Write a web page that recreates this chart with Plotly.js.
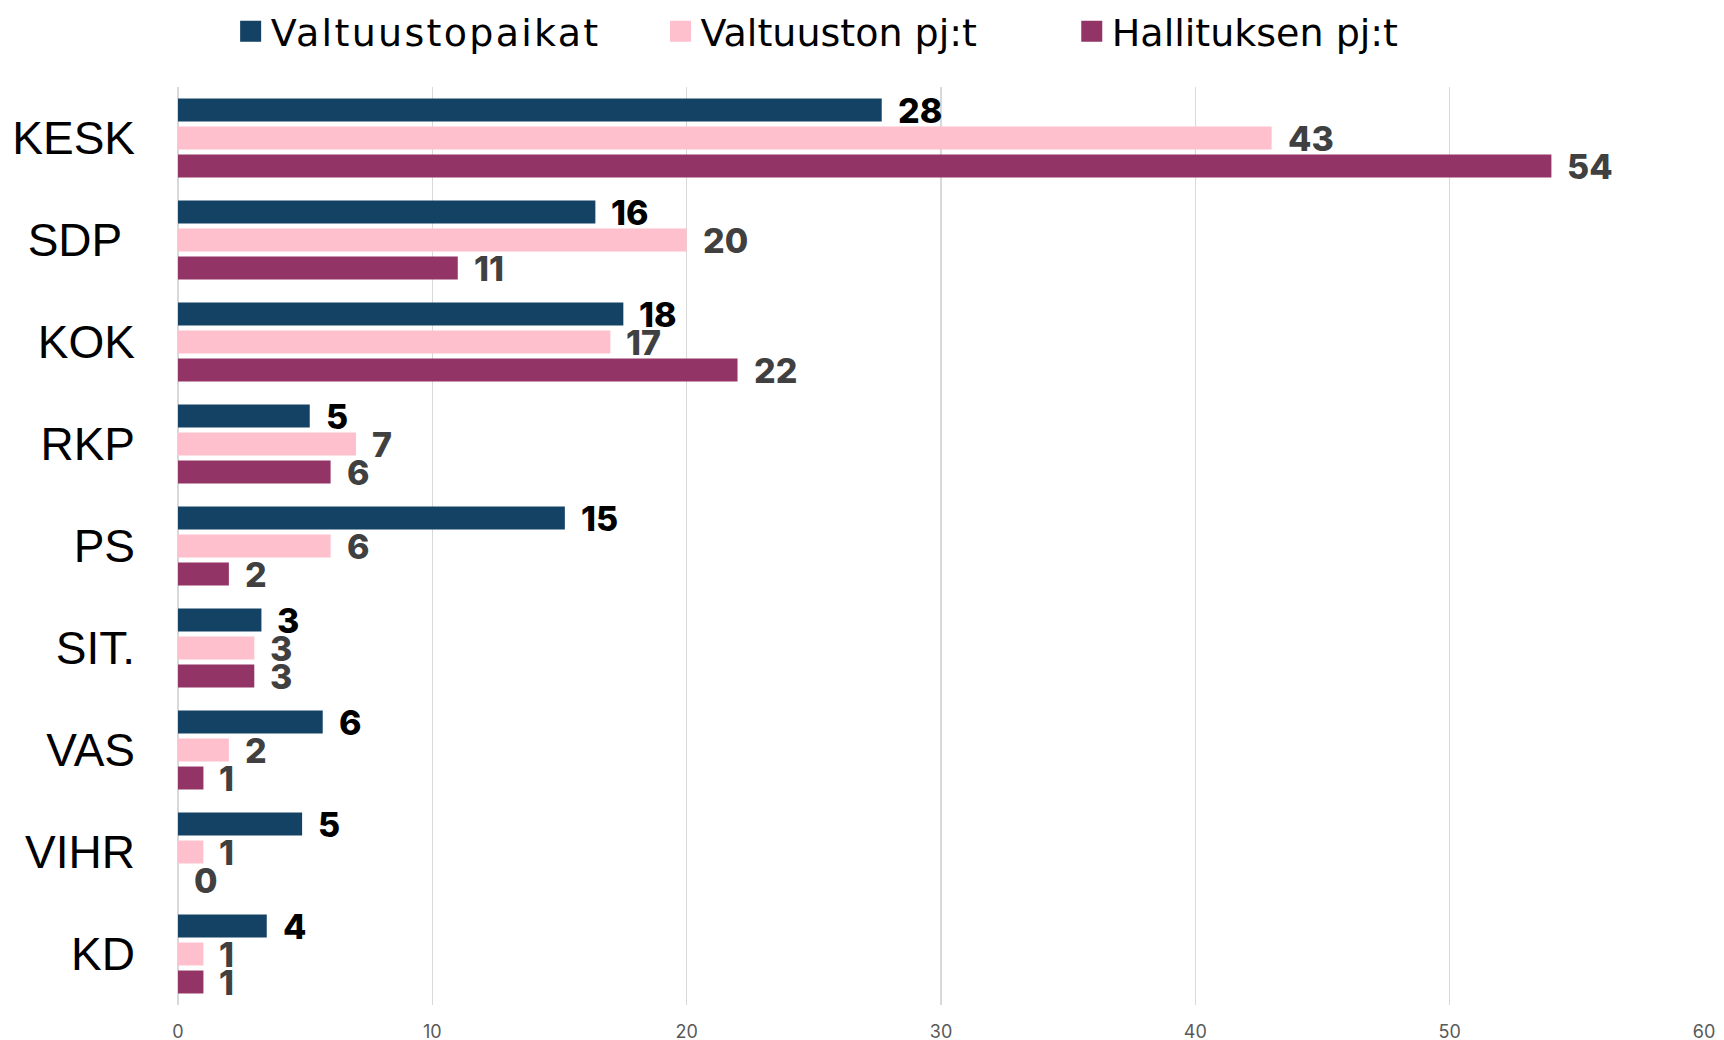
<!DOCTYPE html>
<html>
<head>
<meta charset="utf-8">
<script src="https://cdn.plot.ly/plotly-3.0.1.min.js"></script>
<style>
  html, body { margin: 0; padding: 0; background: #ffffff; }
  #chart { width: 1724px; height: 1040px; }
  .legendtext { letter-spacing: 2.3px; }
</style>
</head>
<body>
<div id="chart"></div>
<script>
// ---- Data ----
const categories = ["KESK", "SDP\u00a0", "KOK", "RKP", "PS", "SIT.", "VAS", "VIHR", "KD"];
const seriesNames = ["Valtuustopaikat", "Valtuuston pj:t", "Hallituksen pj:t"];
const valtuustopaikat = [27.67, 16.41, 17.51, 5.18, 15.21, 3.28, 5.69, 4.88, 3.49];
const valtuustopaikatLabels = [28, 16, 18, 5, 15, 3, 6, 5, 4];
const valtuustonPj = [43, 20, 17, 7, 6, 3, 2, 1, 1];
const hallituksenPj = [54, 11, 22, 6, 2, 3, 1, 0, 1];
const xTicks = [0, 10, 20, 30, 40, 50, 60];

// ---- Styles ----
const colors = ["#134264", "#ffc0cd", "#923465"];
const labelColors = ["#000000", "#404040", "#404040"];
const values = [valtuustopaikat, valtuustonPj, hallituksenPj];
const labels = [valtuustopaikatLabels, valtuustonPj, hallituksenPj];
const yShifts = [28, 0, -28];
const legendIds = ["legend", "legend2", "legend3"];
const legendX = [0.0345, 0.3162, 0.5857];

const traces = [];
values.forEach((vals, i) => {
  traces.push({
    type: "bar",
    orientation: "h",
    name: seriesNames[i],
    x: vals,
    y: categories,
    marker: { color: colors[i] },
    showlegend: false,
    hoverinfo: "x+y"
  });
});
// legend swatches
seriesNames.forEach((n, i) => {
  traces.push({
    type: "scatter",
    mode: "markers",
    name: n,
    legend: legendIds[i],
    x: [null],
    y: [null],
    marker: { symbol: "square", size: 16, color: colors[i], line: { color: colors[i], width: 5 } },
    showlegend: true,
    hoverinfo: "skip"
  });
});

const annotations = [];
labels.forEach((labs, i) => {
  labs.forEach((lab, j) => {
    annotations.push({
      x: values[i][j],
      y: categories[j],
      xref: "x",
      yref: "y",
      text: String(lab),
      showarrow: false,
      xanchor: "left",
      yanchor: "middle",
      xshift: 14,
      yshift: yShifts[i],
      font: { family: "Inter, 'DejaVu Sans', sans-serif", size: 34, weight: 800, color: labelColors[i] }
    });
  });
});

function legendDef(i) {
  return {
    orientation: "h",
    xref: "paper",
    yref: "container",
    x: legendX[i],
    xanchor: "left",
    y: 1,
    yanchor: "top",
    font: { family: "'DejaVu Sans', sans-serif", size: 38, color: "#000000" },
    bgcolor: "rgba(0,0,0,0)"
  };
}

const layout = {
  width: 1724,
  height: 1040,
  margin: { l: 178, r: 20, t: 87, b: 35 },
  paper_bgcolor: "#ffffff",
  plot_bgcolor: "#ffffff",
  barmode: "group",
  bargap: 0.1765,
  bargroupgap: 0.18,
  font: { family: "Inter, 'DejaVu Sans', sans-serif", color: "#000000" },
  xaxis: {
    range: [0, 60],
    tickvals: xTicks,
    ticktext: xTicks.map(String),
    showgrid: true,
    gridcolor: "#d9d9d9",
    gridwidth: 1.5,
    zeroline: true,
    zerolinecolor: "#d9d9d9",
    zerolinewidth: 1.5,
    showline: false,
    ticks: "",
    ticklabelstandoff: 14,
    tickfont: { family: "Inter, sans-serif", size: 18, color: "#595959" },
    fixedrange: true
  },
  yaxis: {
    type: "category",
    categoryorder: "array",
    categoryarray: categories,
    range: [8.5, -0.5],
    showgrid: false,
    zeroline: false,
    showline: false,
    ticks: "",
    ticklabelstandoff: 42,
    tickfont: { family: "'Liberation Sans', Arial, sans-serif", size: 46, color: "#000000" },
    fixedrange: true
  },
  legend: legendDef(0),
  legend2: legendDef(1),
  legend3: legendDef(2),
  annotations: annotations,
  showlegend: true
};

Plotly.newPlot("chart", traces, layout, { displayModeBar: false, staticPlot: true });
</script>
</body>
</html>
